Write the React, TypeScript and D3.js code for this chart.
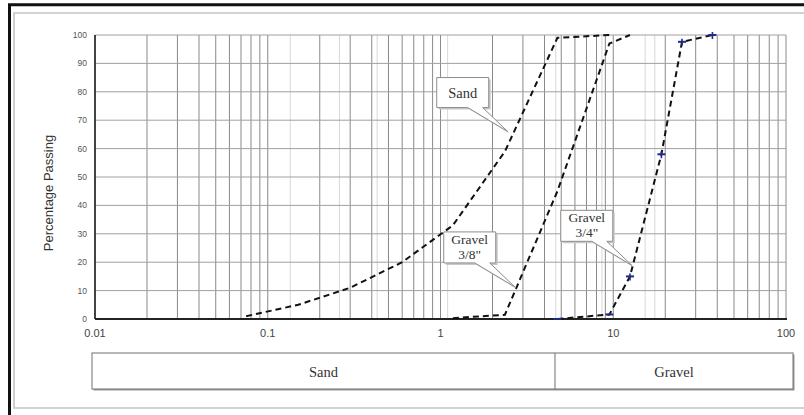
import React from 'react';
import * as d3 from 'd3';

// sieve sizes (mm) and % passing
const sandSize = [0.075, 0.15, 0.3, 0.6, 1.18, 2.36, 4.75, 9.5];
const sandPassing = [1, 5, 11, 20, 33, 59, 99, 100];

const gravel38Size = [1.18, 2.36, 4.75, 9.5, 12.5];
const gravel38Passing = [0.3, 1.5, 45, 97, 100];

const gravel34Size = [4.75, 9.5, 12.5, 19, 25, 37.5];
const gravel34Passing = [0, 1.6, 15, 58, 97.6, 100];

const xMajorTicks = [0.01, 0.1, 1, 10, 100];
const xTickLabels = ['0.01', '0.1', '1', '10', '100'];
const yTicks = [0, 10, 20, 30, 40, 50, 60, 70, 80, 90, 100];
const lightGrid = [0.135, 0.26, 0.43, 1.1, 4.65, 8.6, 15.3, 17.4];

const callouts = [
  { lines: ['Sand'], size: 2.45, passing: 66 },
  { lines: ['Gravel', '3/8"'], size: 2.69, passing: 11.3 },
  { lines: ['Gravel', '3/4"'], size: 12.8, passing: 18.9 },
];

const zoneLabels = ['Sand', 'Gravel'];
const zoneBreak = 4.6;

const width = 804;
const height = 415;
const margin = { top: 35, right: 18, bottom: 96, left: 95 };

const serif = "'Times New Roman', 'Liberation Serif', serif";
const sans = "Arial, 'Liberation Sans', sans-serif";

const App: React.FC = () => {
  const x = d3.scaleLog()
    .domain([0.01, 100])
    .range([margin.left, width - margin.right]);
  const y = d3.scaleLinear()
    .domain([0, 100])
    .range([height - margin.bottom, margin.top]);

  const minorTicks: number[] = [];
  for (let d = 0.01; d < 99; d *= 10) {
    for (let m = 2; m <= 9; m++) minorTicks.push(+(d * m).toPrecision(3));
  }

  const line = d3.line<[number, number]>()
    .x(d => x(d[0]))
    .y(d => y(d[1]));

  const sand = sandSize.map((s, i) => [s, sandPassing[i]] as [number, number]);
  const g38 = gravel38Size.map((s, i) => [s, gravel38Passing[i]] as [number, number]);
  const g34 = gravel34Size.map((s, i) => [s, gravel34Passing[i]] as [number, number]);

  const x0 = margin.left;
  const x1 = width - margin.right;
  const y0 = height - margin.bottom;
  const y1 = margin.top;

  const barTop = y0 + 34;
  const barBottom = barTop + 36;
  const barLeft = x0 - 3;
  const barRight = x1 + 7;
  const barMid = x(zoneBreak);

  return (
    <svg
      width={width}
      height={height}
      style={{ position: 'absolute', left: 0, top: 0, background: '#fff', overflow: 'hidden' }}
    >
      {/* page frame (runs off the right / bottom edge) */}
      <path d={`M9.5,${height} V4.8 H${width}`} fill="none" stroke="#111" strokeWidth={3} />
      <path d={`M${width},13 H14 V408 H${width}`} fill="none" stroke="#c4c4c4" strokeWidth={1.6} />

      {/* light sieve lines */}
      {lightGrid.map(v => (
        <line key={'l' + v} x1={x(v)} x2={x(v)} y1={y1} y2={y0} stroke="#d8d8d8" strokeWidth={1} />
      ))}
      {/* vertical grid */}
      {minorTicks.concat(xMajorTicks).map(v => (
        <line key={'v' + v} x1={x(v)} x2={x(v)} y1={y1} y2={y0} stroke="#8a8a8a" strokeWidth={1} />
      ))}
      {/* horizontal grid */}
      {yTicks.map(v => (
        <line key={'h' + v} x1={x0} x2={x1} y1={y(v)} y2={y(v)} stroke="#a0a0a0" strokeWidth={1} />
      ))}

      {/* axes */}
      <line x1={x0} x2={x0} y1={y1} y2={y0} stroke="#222" strokeWidth={1.6} />
      <line x1={x0} x2={x1 + 1} y1={y0} y2={y0} stroke="#222" strokeWidth={2} />

      {yTicks.map(v => (
        <text key={'yt' + v} x={x0 - 8} y={y(v)} dy="0.35em" textAnchor="end"
          fontFamily={sans} fontSize={8.5} fill="#555">{v}</text>
      ))}
      {xMajorTicks.map((v, i) => (
        <text key={'xt' + v} x={x(v)} y={y0 + 18} textAnchor="middle"
          fontFamily={sans} fontSize={11} fill="#444">{xTickLabels[i]}</text>
      ))}
      <text transform={`translate(53,${(y0 + y1) / 2 + 16}) rotate(-90)`} textAnchor="middle"
        fontFamily={sans} fontSize={13} fill="#333">Percentage Passing</text>

      {/* curves */}
      {[sand, g38, g34].map((pts, i) => (
        <path key={'c' + i} d={line(pts) || ''} fill="none" stroke="#111" strokeWidth={2}
          strokeDasharray="6,4" />
      ))}

      {/* blue test markers on 3/4" gravel */}
      {g34.map((p, i) => (
        <g key={'m' + i} stroke="#1c2a8c" strokeWidth={2}>
          <line x1={x(p[0]) - 4} x2={x(p[0]) + 4} y1={y(p[1])} y2={y(p[1])} />
          {p[1] > 5 && <line x1={x(p[0])} x2={x(p[0])} y1={y(p[1]) - 3} y2={y(p[1]) + 4} strokeWidth={1.6} />}
        </g>
      ))}

      {/* callouts */}
      {callouts.map((c, i) => {
        const tx = x(c.size);
        const ty = y(c.passing);
        const two = c.lines.length > 1;
        const bw = 52;
        const bh = two ? 31 : 30;
        const bx = tx - 71;
        const by = ty - 24 - bh;
        const d = `M${bx},${by} H${bx + bw} V${by + bh} H${tx - 25} L${tx},${ty} L${tx - 40},${by + bh} H${bx} Z`;
        return (
          <g key={'co' + i}>
            <path d={d} transform="translate(2,2)" fill="#c8c8c8" />
            <path d={d} fill="#fff" stroke="#8c8c8c" strokeWidth={1} />
            {c.lines.map((t, j) => (
              <text key={j} x={bx + bw / 2}
                y={two ? by + 12 + j * 15 : by + 20}
                textAnchor="middle" fontFamily={serif}
                fontSize={two ? 13.5 : 14.5} fill="#333">{t}</text>
            ))}
          </g>
        );
      })}

      {/* soil classification bar */}
      <rect x={barLeft + 1.5} y={barTop + 1.5} width={barRight - barLeft} height={barBottom - barTop} fill="#9a9a9a" />
      <rect x={barLeft} y={barTop} width={barRight - barLeft} height={barBottom - barTop} fill="#fff" stroke="#707070" strokeWidth={1} />
      <line x1={barMid} x2={barMid} y1={barTop} y2={barBottom} stroke="#707070" strokeWidth={1} />
      <text x={(barLeft + barMid) / 2} y={barTop + 24} textAnchor="middle"
        fontFamily={serif} fontSize={14.5} fill="#333">{zoneLabels[0]}</text>
      <text x={(barMid + barRight) / 2} y={barTop + 24} textAnchor="middle"
        fontFamily={serif} fontSize={14.5} fill="#333">{zoneLabels[1]}</text>
    </svg>
  );
};

export default App;
